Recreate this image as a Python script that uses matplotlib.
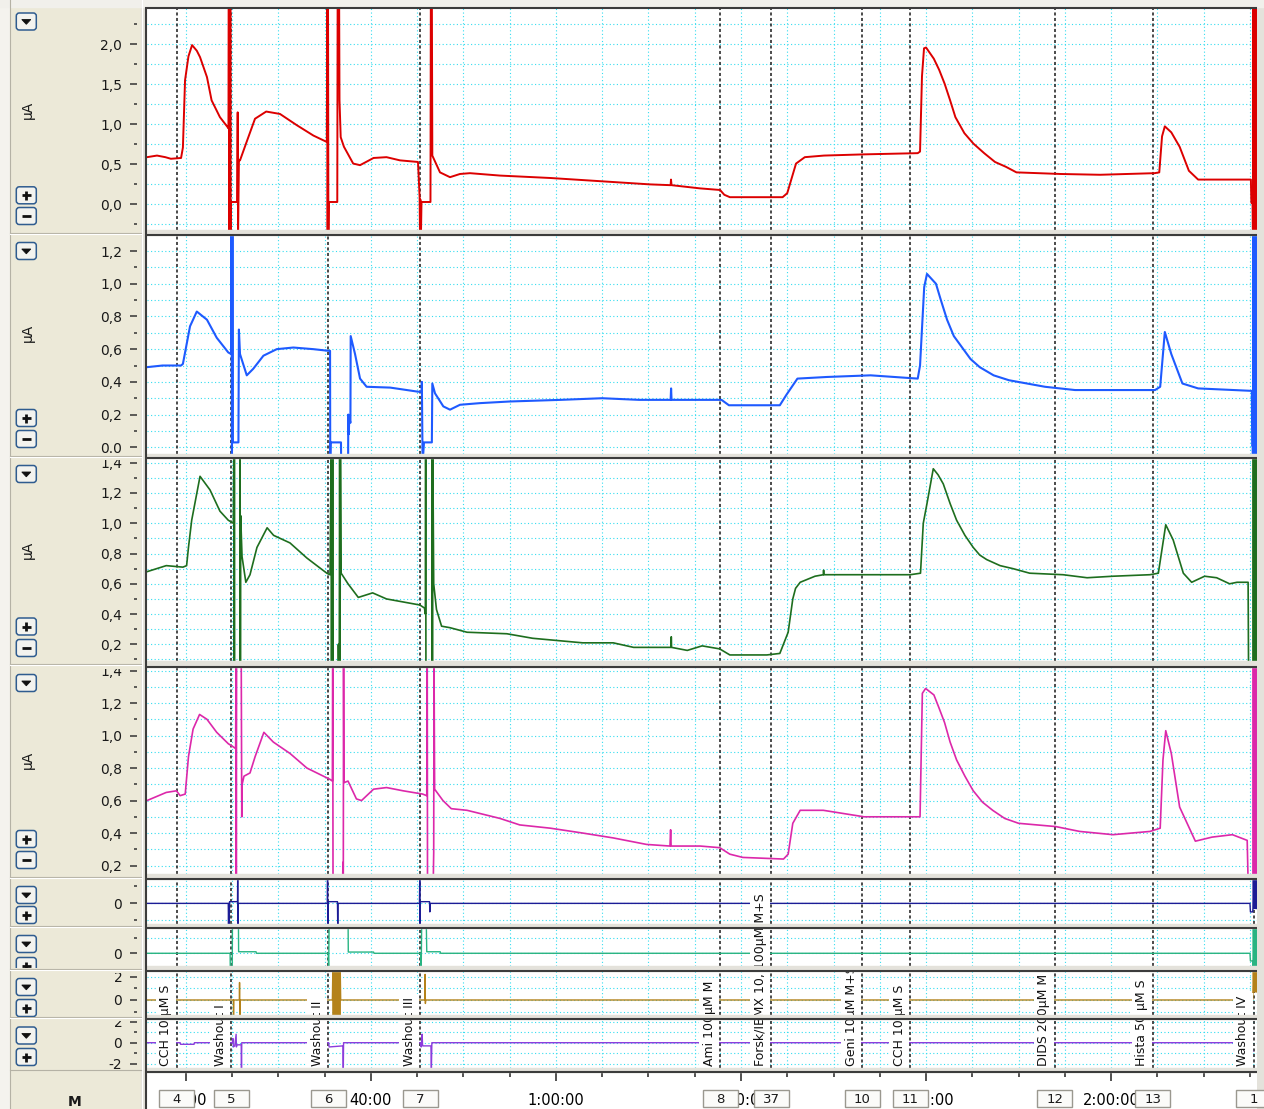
import matplotlib
matplotlib.use('Agg')
import matplotlib.pyplot as plt
import numpy as np
from matplotlib.patches import Rectangle, FancyBboxPatch, Polygon
from matplotlib.transforms import Bbox, TransformedBbox, blended_transform_factory, offset_copy

W, H = 1264, 1109

# a. traces (time in minutes, value in channel units)
red_trace = [
    (15.82, 0.59), (16.9, 0.61), (17.8, 0.59), (18.4, 0.57), (19.5, 0.58), (19.7, 0.71), (19.93, 1.55),
    (20.3, 1.85), (20.69, 1.99), (21.2, 1.92), (21.55, 1.84), (22.3, 1.59), (22.8, 1.30), (23.7, 1.09),
    (24.5, 0.97), (24.62, 0.95), (24.66, 2.6), (24.70, -0.4), (24.74, 2.6), (24.78, -0.4), (24.82, 2.6),
    (24.86, -0.4), (24.90, 0.03), (25.55, 0.03), (25.62, 1.15), (25.66, -0.4), (25.75, 0.55), (25.87, 0.55),
    (26.52, 0.76), (27.49, 1.07), (28.7, 1.16), (30.19, 1.13), (32.0, 0.99), (33.8, 0.86), (35.25, 0.78),
    (35.30, 2.6), (35.34, -0.4), (35.38, 2.6), (35.42, -0.4), (35.46, 0.03), (36.38, 0.03), (36.42, 2.6),
    (36.58, 2.6), (36.62, 1.30), (36.75, 0.84), (37.1, 0.72), (38.1, 0.51), (38.84, 0.49), (40.3, 0.58),
    (41.7, 0.59), (43.16, 0.55), (45.1, 0.53), (45.28, 0.09), (45.32, -0.4), (45.36, 0.06), (45.42, -0.4),
    (45.48, 0.03), (46.45, 0.03), (46.49, 2.6), (46.6, 2.6), (46.65, 0.61), (47.48, 0.40), (48.56, 0.34),
    (49.64, 0.38), (50.72, 0.39), (53.96, 0.36), (59.37, 0.33), (64.77, 0.29), (70.17, 0.25), (72.4, 0.24),
    (72.44, 0.31), (72.5, 0.24), (75.58, 0.20), (77.74, 0.18), (78.2, 0.12), (78.8, 0.09), (84.5, 0.09),
    (85.0, 0.14), (85.41, 0.30), (85.95, 0.51), (86.9, 0.59), (88.97, 0.61), (93.3, 0.625), (99.1, 0.64),
    (99.35, 0.66), (99.56, 1.6), (99.78, 1.95), (100.0, 1.96), (100.84, 1.82), (101.42, 1.68), (102.0, 1.51),
    (102.6, 1.30), (103.17, 1.09), (104.14, 0.89), (105.11, 0.76), (106.28, 0.64), (107.45, 0.53),
    (108.62, 0.47), (109.77, 0.40), (114.5, 0.38), (118.8, 0.37), (124.7, 0.39), (125.2, 0.40),
    (125.5, 0.85), (125.8, 0.975), (126.5, 0.90), (127.4, 0.72), (128.4, 0.42), (129.4, 0.31), (135.1, 0.31),
    (135.15, 0.02), (135.28, 0.02), (135.32, -0.4), (135.37, 2.6), (135.42, -0.4), (135.47, 2.6),
    (135.52, -0.4), (135.57, 2.6), (135.62, -0.4), (135.67, 2.6), (135.72, -0.4),
]
blue_trace = [
    (15.82, 0.49), (17.5, 0.50), (19.5, 0.50), (19.7, 0.51), (20.47, 0.74), (21.2, 0.83), (22.3, 0.78),
    (23.35, 0.67), (24.6, 0.58), (24.92, 0.57), (24.95, 1.4), (25.0, -0.1), (25.05, 1.4), (25.1, 0.03),
    (25.7, 0.03), (25.75, 0.72), (25.87, 0.57), (26.6, 0.44), (27.3, 0.48), (28.4, 0.56), (29.84, 0.60),
    (31.63, 0.61), (33.8, 0.60), (35.4, 0.59), (35.6, 0.59), (35.62, -0.1), (35.66, 0.03), (36.78, 0.03),
    (36.8, -0.1), (37.55, -0.1), (37.57, 0.2), (37.62, 0.08), (37.68, 0.18), (37.8, 0.15), (37.83, 0.68),
    (38.3, 0.57), (38.84, 0.42), (39.55, 0.37), (42.1, 0.365), (45.1, 0.34), (45.5, 0.34), (45.52, 0.40),
    (45.6, -0.1), (45.75, 0.03), (46.6, 0.03), (46.65, 0.39), (46.94, 0.33), (47.84, 0.25), (48.56, 0.23),
    (49.64, 0.26), (51.8, 0.27), (55.0, 0.28), (60.5, 0.29), (65.0, 0.30), (69.0, 0.29), (72.4, 0.29),
    (72.45, 0.36), (72.5, 0.29), (75.6, 0.29), (77.9, 0.29), (78.7, 0.257), (84.2, 0.257), (84.9, 0.32),
    (86.1, 0.42), (89.3, 0.43), (94.0, 0.44), (99.1, 0.42), (99.35, 0.5), (99.8, 0.98), (100.1, 1.06),
    (101.07, 1.0), (101.6, 0.90), (102.27, 0.78), (103.0, 0.68), (103.9, 0.61), (104.8, 0.54),
    (105.8, 0.49), (107.3, 0.44), (108.96, 0.41), (112.85, 0.37), (116.1, 0.35), (124.74, 0.35),
    (125.3, 0.37), (125.8, 0.705), (126.5, 0.57), (127.7, 0.39), (129.4, 0.36), (135.2, 0.345),
    (135.25, 0.01), (135.3, 0.01), (135.32, -0.1), (135.37, 1.4), (135.42, -0.1), (135.47, 1.4),
    (135.52, -0.1), (135.57, 1.4), (135.62, -0.1), (135.67, 1.4), (135.72, -0.1),
]
green_trace = [
    (15.82, 0.68), (17.9, 0.72), (19.7, 0.71), (20.1, 0.72), (20.3, 0.84), (20.65, 1.02), (21.55, 1.31),
    (22.63, 1.22), (23.7, 1.08), (24.6, 1.02), (25.15, 1.0), (25.2, 1.5), (25.23, 0.0), (25.26, 1.5),
    (25.29, 0.0), (25.85, 0.0), (25.88, 1.5), (25.91, 0.0), (25.94, 1.05), (26.09, 0.78), (26.5, 0.61),
    (26.95, 0.66), (27.7, 0.84), (28.8, 0.97), (29.5, 0.92), (31.27, 0.87), (33.1, 0.77), (35.25, 0.67),
    (35.6, 0.66), (35.72, 1.5), (35.76, 0.0), (35.8, 1.5), (35.84, 0.0), (35.88, 1.5), (35.92, 0.0),
    (36.45, 0.0), (36.5, 0.2), (36.55, 0.05), (36.6, 0.22), (36.64, 1.5), (36.68, 0.0), (36.72, 1.5),
    (36.8, 0.67), (37.54, 0.60), (38.65, 0.51), (40.2, 0.54), (41.7, 0.50), (45.3, 0.46), (45.8, 0.44),
    (45.9, 0.40), (45.93, 1.5), (45.96, 0.0), (46.6, 0.0), (46.63, 1.5), (46.66, 0.0), (46.7, 1.5),
    (46.8, 0.60), (47.1, 0.43), (47.65, 0.32), (48.56, 0.31), (50.4, 0.28), (54.7, 0.27), (57.5, 0.24),
    (62.9, 0.21), (66.2, 0.21), (68.4, 0.18), (72.0, 0.18), (72.45, 0.18), (72.47, 0.25), (72.5, 0.18),
    (74.2, 0.16), (75.8, 0.19), (77.7, 0.17), (78.8, 0.13), (82.8, 0.13), (84.2, 0.14), (85.1, 0.28),
    (85.6, 0.50), (85.9, 0.57), (86.4, 0.61), (88.0, 0.65), (88.9, 0.66), (88.93, 0.69), (88.96, 0.66),
    (93.0, 0.66), (98.3, 0.66), (99.4, 0.67), (99.7, 1.0), (100.1, 1.13), (100.78, 1.36), (101.3, 1.32),
    (101.86, 1.26), (102.6, 1.13), (103.3, 1.02), (104.2, 0.92), (105.1, 0.84), (105.8, 0.79),
    (106.55, 0.76), (108.0, 0.72), (109.4, 0.70), (111.2, 0.67), (114.8, 0.66),
    (117.4, 0.64), (120.2, 0.65), (124.2, 0.66), (125.1, 0.67), (125.9, 0.99), (126.7, 0.89),
    (127.8, 0.67), (128.7, 0.61), (130.1, 0.65), (131.4, 0.64), (132.8, 0.60), (133.6, 0.61),
    (134.8, 0.61), (134.85, 0.0), (135.32, 0.0), (135.37, 1.5), (135.42, 0.0), (135.47, 1.5),
    (135.52, 0.0), (135.57, 1.5), (135.62, 0.0), (135.67, 1.5), (135.72, 0.0),
]
pink_trace = [
    (15.82, 0.60), (17.9, 0.65), (19.0, 0.66), (19.4, 0.63), (19.95, 0.64), (20.3, 0.87), (20.8, 1.04),
    (21.5, 1.13), (22.3, 1.10), (23.35, 1.02), (24.6, 0.95), (25.15, 0.93), (25.4, 0.92), (25.44, 1.5),
    (25.47, 0.1), (25.5, 1.5), (26.0, 1.5), (26.06, 0.50), (26.1, 0.70), (26.3, 0.75), (26.95, 0.77),
    (27.5, 0.87), (28.45, 1.02), (29.47, 0.96), (31.27, 0.89), (33.1, 0.80), (35.6, 0.73), (35.85, 0.72),
    (35.89, 1.5), (35.92, 0.1), (36.95, 0.1), (37.0, 0.22), (37.03, 0.1), (37.06, 1.5), (37.1, 0.71),
    (37.54, 0.72), (38.45, 0.61), (39.0, 0.60), (40.3, 0.67), (41.7, 0.68), (43.5, 0.66), (45.6, 0.64),
    (46.05, 0.63), (46.1, 1.5), (46.13, 0.1), (46.75, 0.1), (46.8, 0.28), (46.83, 1.5), (46.9, 0.67),
    (47.8, 0.60), (48.7, 0.55), (50.4, 0.54), (53.96, 0.49), (56.1, 0.45), (59.4, 0.43), (62.9, 0.40),
    (66.2, 0.37), (69.8, 0.33), (72.33, 0.32), (72.4, 0.42), (72.45, 0.32), (75.6, 0.32), (77.7, 0.31),
    (78.8, 0.27), (80.2, 0.25), (84.6, 0.24), (85.1, 0.27), (85.6, 0.46), (86.4, 0.54), (88.9, 0.54),
    (93.3, 0.50), (98.5, 0.50), (99.35, 0.50), (99.6, 1.26), (99.95, 1.29), (100.85, 1.25), (101.4, 1.17),
    (102.0, 1.08), (102.6, 0.96), (103.3, 0.85), (104.2, 0.75), (105.1, 0.66), (106.1, 0.59),
    (107.2, 0.54), (108.5, 0.49), (110.0, 0.46), (114.0, 0.44), (116.6, 0.41),
    (120.2, 0.39), (124.2, 0.41), (125.3, 0.43), (125.6, 0.85), (125.9, 1.03), (126.5, 0.89),
    (127.4, 0.56), (129.1, 0.35), (130.9, 0.375), (133.1, 0.39), (134.7, 0.355), (134.8, 0.1),
    (135.32, 0.1), (135.37, 1.5), (135.42, 0.1), (135.47, 1.5), (135.52, 0.1), (135.57, 1.5),
    (135.62, 0.1), (135.67, 1.5), (135.72, 0.1),
]
navy_trace = [
    (15.82, 0.0), (24.6, 0.0), (24.63, -1.3), (24.66, 0.0), (24.7, -1.3), (24.74, 0.1), (25.6, 0.1),
    (25.62, 1.5), (25.65, -1.3), (25.68, 0.0), (35.3, 0.0), (35.33, 1.5), (35.36, -1.3), (35.4, 0.1),
    (36.4, 0.1), (36.43, -1.3), (36.46, 0.0), (45.26, 0.0), (45.29, 1.5), (45.32, -1.3), (45.36, 0.1),
    (46.35, 0.1), (46.38, -0.5), (46.42, 0.0), (135.0, 0.0), (135.05, -0.5), (135.3, -0.5),
    (135.32, -0.3), (135.37, 1.5), (135.42, -0.3), (135.47, 1.5), (135.52, -0.3), (135.57, 1.5),
    (135.62, -0.3), (135.67, 1.5), (135.72, -0.3),
]
teal_trace = [
    (15.82, 0.0), (24.8, 0.0), (24.82, -1.0), (25.03, -1.0), (25.05, 1.9), (25.7, 1.9), (25.72, 0.1),
    (27.6, 0.1), (27.65, 0.0), (35.4, 0.0), (35.45, -1.0), (35.5, 1.9), (37.55, 1.9), (37.57, 0.08),
    (40.3, 0.08), (40.35, 0.0), (45.4, 0.0), (45.45, -1.0), (45.5, 1.9), (46.0, 1.9), (46.05, 0.1),
    (47.5, 0.1), (47.55, 0.0), (135.0, 0.0), (135.05, -0.5), (135.3, -0.5), (135.32, -1.0),
    (135.37, 1.9), (135.42, -1.0), (135.47, 1.9), (135.52, -1.0), (135.57, 1.9), (135.62, -1.0),
    (135.67, 1.9), (135.72, -1.0),
]
gold_trace = [
    (15.82, 0.0), (25.15, 0.0), (25.17, -1.4), (25.2, 0.0), (25.8, 0.0), (25.82, 1.5), (25.85, -1.4),
    (25.88, 0.0), (35.85, 0.0), (35.9, 2.6), (35.95, -1.4), (36.0, 2.6), (36.05, -1.4), (36.1, 2.6),
    (36.15, -1.4), (36.2, 2.6), (36.25, -1.4), (36.3, 2.6), (36.35, -1.4), (36.4, 2.6), (36.45, -1.4),
    (36.5, 2.6), (36.55, -1.4), (36.6, 2.6), (36.65, -1.4), (36.7, 2.6), (36.75, 0.0), (45.84, 0.0),
    (45.87, 2.2), (45.9, -0.3), (45.94, 0.0), (135.3, 0.0), (135.32, 0.7), (135.37, 2.6), (135.42, 0.7),
    (135.47, 2.6), (135.52, 0.7), (135.57, 2.6), (135.62, 0.7), (135.67, 2.6), (135.72, 0.7),
]
violet_trace = [
    (15.82, 0.0), (19.4, 0.0), (19.45, -0.15), (20.9, -0.15), (20.95, 0.0), (25.05, 0.0), (25.1, 0.4),
    (25.15, -0.4), (25.3, -0.3), (25.45, 0.8), (25.48, -0.4), (25.55, -0.2), (26.0, -0.2), (26.03, -2.6),
    (26.06, 0.0), (35.45, 0.0), (35.5, -0.4), (37.0, -0.3), (37.03, -2.6), (37.06, 0.0), (45.4, 0.0),
    (45.45, -0.4), (45.55, 0.8), (45.6, -0.3), (46.5, -0.3), (46.55, -2.6), (46.6, 0.0), (135.0, 0.0),
    (135.05, -0.8), (135.3, -0.8),
]

# b. comments / markers
marker_times = [19.06, 24.90, 35.38, 45.32, 77.74, 83.25, 93.08, 98.27, 113.93, 124.52, 135.43]
marker_numbers = ['4', '5', '6', '7', '8', '37', '10', '11', '12', '13', '1']
marker_comments = ['CCH 10 µM S', 'Washout I', 'Washout II', 'Washout III', 'Ami 100µM M',
                   'Forsk/IBMX 10, 100µM M+S', 'Geni 10µM M+S', 'CCH 10 µM S', 'DIDS 200µM M',
                   'Hista 50 µM S', 'Washout IV']

time_ticks = [20, 40, 60, 80, 100, 120]
time_labels = ['20:00', '40:00', '1:00:00', '1:20:00', '1:40:00', '2:00:00']
x_range = (15.82, 135.76)

# c. channel scales
red_major, red_labels = [0.0, 0.5, 1.0, 1.5, 2.0], ['0,0', '0,5', '1,0', '1,5', '2,0']
red_minor = [-0.25, 0.25, 0.75, 1.25, 1.75, 2.25]
blue_major = [0.0, 0.2, 0.4, 0.6, 0.8, 1.0, 1.2]
blue_labels = ['0.0', '0,2', '0,4', '0,6', '0,8', '1,0', '1,2']
blue_minor = [0.1, 0.3, 0.5, 0.7, 0.9, 1.1]
ua_major = [0.2, 0.4, 0.6, 0.8, 1.0, 1.2, 1.4]
ua_labels = ['0,2', '0,4', '0,6', '0,8', '1,0', '1,2', '1,4']
green_minor = [0.1, 0.3, 0.5, 0.7, 0.9, 1.1, 1.3]
pink_minor = [0.3, 0.5, 0.7, 0.9, 1.1, 1.3]

channels = [
    dict(trace=red_trace, color='#DC0000', lw=1.4, ylim=(-0.32, 2.46), major=red_major, labels=red_labels, minor=red_minor),
    dict(trace=blue_trace, color='#1E5AFF', lw=1.5, ylim=(-0.041, 1.298), major=blue_major, labels=blue_labels, minor=blue_minor),
    dict(trace=green_trace, color='#1E6E1E', lw=1.2, ylim=(0.09, 1.431), major=ua_major, labels=ua_labels, minor=green_minor),
    dict(trace=pink_trace, color='#DC28AA', lw=1.2, ylim=(0.148, 1.422), major=ua_major, labels=ua_labels, minor=pink_minor),
    dict(trace=navy_trace, color='#1C1C96', lw=1.0, ylim=(-1.21, 1.43), major=[0], labels=['0'], minor=[-1, 1]),
    dict(trace=teal_trace, color='#28B482', lw=1.0, ylim=(-0.83, 1.65), major=[0], labels=['0'], minor=[1]),
    dict(trace=gold_trace, color='#B4821A', lw=1.0, ylim=(-1.29, 2.49), major=[0, 2], labels=['0', '2'], minor=[-1, 1]),
    dict(trace=violet_trace, color='#8C3CDC', lw=1.0, ylim=(-2.39, 2.24), major=[-2, 0, 2], labels=['-2', '0', '2'], minor=[-1, 1]),
]

# d. layout (pixels)
panel_px = [(7.5, 230), (235, 454), (458, 661), (667, 874), (879, 924), (928, 966), (971, 1015), (1019, 1068)]
time_px = (1072, 1109)
label_regions = [(6.5, 232.5), (232.5, 456), (456, 664), (664, 876.5), (876.5, 926), (926, 968.5), (968.5, 1017), (1017, 1070)]
X0, X1 = 147, 1257


def px_rect(top, bottom):
    return [X0 / W, 1 - bottom / H, (X1 - X0) / W, (bottom - top) / H]


fig = plt.figure(figsize=(W / 100, H / 100), dpi=100, facecolor='#ECE9D8')


def clip_rows(top, bottom):
    return TransformedBbox(Bbox.from_extents(0, 1 - bottom / H, 1, 1 - top / H), fig.transFigure)


bg = fig.add_axes([0, 0, 1, 1], zorder=-5)
bg.set_xlim(0, W)
bg.set_ylim(H, 0)
bg.axis('off')
bg.add_patch(Rectangle((141, 0), W - 141, H, color='#E4E2DB'))
bg.add_patch(Rectangle((0, 0), 9, H, color='#F4F3EE'))

grid_minutes = np.arange(20, 136, 5)
grid_style = dict(color='#35DDF0', lw=0.8, linestyle=(0, (1, 2.2)))

axes = []
for i, ch in enumerate(channels):
    top, bot = panel_px[i]
    ax = fig.add_axes(px_rect(top, bot))
    ax.set_facecolor('white')
    t, v = zip(*ch['trace'])
    ax.plot(t, v, color=ch['color'], lw=ch['lw'], zorder=3)
    for mt in marker_times:
        ax.axvline(mt, color='#1A1A1A', lw=1.1, linestyle=(0, (2, 1.6)), zorder=2)
    ax.set_xticks(grid_minutes)
    ax.tick_params(axis='x', length=0, labelbottom=False)
    ax.set_yticks(ch['major'], labels=ch['labels'])
    ax.set_yticks(ch['minor'], minor=True)
    ax.set_xlim(x_range)
    ax.set_ylim(ch['ylim'])
    ax.tick_params(axis='y', which='major', length=4.8, width=1.1, color='#333333',
                   labelsize=10, pad=5.8, labelcolor='#1A1A1A')
    ax.tick_params(axis='y', which='minor', length=2.4, width=1.1, color='#333333')
    ax.set_axisbelow(True)
    ax.grid(axis='x', which='major', **grid_style)
    ax.grid(axis='y', which='both', **grid_style)
    for s in ax.spines.values():
        s.set_visible(False)
    ax.spines['left'].set_position(('outward', 7.2))
    cb = clip_rows(top + 2, bot + 1)
    for lbl in ax.get_yticklabels():
        lbl.set_clip_box(cb)
        lbl.set_clip_on(True)
    axes.append(ax)

# e. time axis
axt = fig.add_axes(px_rect(*time_px))
axt.set_facecolor('white')
axt.set_yticks([])
axt.set_xticks(time_ticks, labels=time_labels)
axt.set_xticks(grid_minutes, minor=True)
axt.set_xlim(x_range)
axt.set_ylim(0, 1)
axt.tick_params(axis='x', which='both', top=True, bottom=False, labeltop=False, labelbottom=True,
                direction='in', color='#222222', width=1.1)
axt.tick_params(axis='x', which='major', length=6.5, pad=-11.5, labelsize=10.5)
axt.tick_params(axis='x', which='minor', length=3.6)
for s in axt.spines.values():
    s.set_visible(False)

px_per_min = (X1 - X0) / (x_range[1] - x_range[0])
bw = 35 / px_per_min
btrans = blended_transform_factory(axt.transData, axt.transAxes)
for mt, num in zip(marker_times, marker_numbers):
    axt.add_patch(Rectangle((mt - bw / 2, 0.054), bw, 0.46, transform=btrans, facecolor='#FBFBF9',
                            edgecolor='#9A988F', lw=1, zorder=4, clip_on=False))
    axt.text(mt, 0.27, num, transform=btrans, ha='center', va='center', fontsize=9.5,
             color='#1A1A1A', zorder=5, clip_on=False)

# f. foreground chrome
fg = fig.add_axes([0, 0, 1, 1], zorder=10)
fg.set_xlim(0, W)
fg.set_ylim(H, 0)
fg.axis('off')
fg.patch.set_alpha(0)

ctrans = offset_copy(blended_transform_factory(axes[-1].transData, fg.transData), fig=fig, x=-4.5, y=0, units='dots')
for mt, txt in zip(marker_times, marker_comments):
    tx = fg.text(mt, 1066, txt, transform=ctrans, rotation=90, ha='right', va='bottom', fontsize=9,
                 color='#111111', zorder=2,
                 bbox=dict(boxstyle='square,pad=0.25', fc='white', ec='none'))
    if txt.startswith('Geni'):
        tx.set_clip_box(clip_rows(971, H))
        tx.set_clip_on(True)

gaps = [(230, 235), (454, 458), (661, 667), (874, 879), (924, 928), (966, 971), (1015, 1019), (1068, 1072)]
fg.add_patch(Rectangle((0, 0), W, 6.5, color='#F1F0EB', zorder=3))
fg.plot([145, X1], [7.5, 7.5], color='#3C3C3C', lw=1.5, zorder=4, solid_capstyle='butt')
for b, t in gaps:
    fg.add_patch(Rectangle((141, b), W - 141, t - b, color='#E4E2DB', zorder=3))
    fg.plot([145, X1], [t, t], color='#3C3C3C', lw=1.5, zorder=4, solid_capstyle='butt')
fg.plot([146, 146], [6.5, H], color='#3C3C3C', lw=1.5, zorder=4, solid_capstyle='butt')
fg.plot([141.5, 141.5], [0, H], color='white', lw=0.8, zorder=4)
fg.plot([9.5, 9.5], [0, H], color='#B5B2A5', lw=0.8, zorder=4)
for r_top, r_bot in label_regions[1:]:
    fg.plot([10, 141], [r_top, r_top], color='#B5B2A5', lw=0.8, zorder=4)
    fg.plot([10, 141], [r_top + 1.2, r_top + 1.2], color='white', lw=0.8, zorder=4)
fg.plot([10, 141], [1070, 1070], color='#B5B2A5', lw=0.8, zorder=4)


def button(cx, cy, kind, region):
    clip = clip_rows(*region)
    box = FancyBboxPatch((cx - 10, cy - 8.5), 20, 17, boxstyle='round,pad=0,rounding_size=3',
                         fc='#F3F3EF', ec='#2F5C8F', lw=1.1, zorder=5)
    fg.add_patch(box)
    box.set_clip_box(clip)
    arts = []
    if kind == 'down':
        arts.append(fg.add_patch(Polygon([[cx - 4.5, cy - 2], [cx + 4.5, cy - 2], [cx, cy + 2.8]], closed=True,
                                         fc='#111111', ec='#111111', lw=0.6, zorder=6)))
    else:
        arts += fg.plot([cx - 4.5, cx + 4.5], [cy, cy], color='#111111', lw=2.0, zorder=6, solid_capstyle='butt')
        if kind == 'plus':
            arts += fg.plot([cx, cx], [cy - 4.5, cy + 4.5], color='#111111', lw=2.0, zorder=6, solid_capstyle='butt')
    for a in arts:
        a.set_clip_box(clip)


buttons = [
    (0, [(21.5, 'down'), (195.3, 'plus'), (216, 'minus')]),
    (1, [(251, 'down'), (418, 'plus'), (439, 'minus')]),
    (2, [(474, 'down'), (626.5, 'plus'), (648, 'minus')]),
    (3, [(683, 'down'), (839, 'plus'), (860, 'minus')]),
    (4, [(895, 'down'), (915, 'plus')]),
    (5, [(944, 'down'), (966, 'plus')]),
    (6, [(987, 'down'), (1008, 'plus')]),
    (7, [(1035.5, 'down'), (1057, 'plus')]),
]
for idx, items in buttons:
    r = label_regions[idx]
    for cy, kind in items:
        button(26.3, cy, kind, (r[0] + 1.5, r[1] - 0.5))

for y in [110, 333, 550, 760]:
    fg.text(28, y, 'µA', rotation=90, ha='center', va='center', fontsize=10, color='#1A1A1A', zorder=6)
fg.text(75, 1102, 'M', ha='center', va='center', fontsize=10, fontweight='bold', color='#1A1A1A', zorder=6)

fig.savefig('out.png', dpi=100, facecolor=fig.get_facecolor())
